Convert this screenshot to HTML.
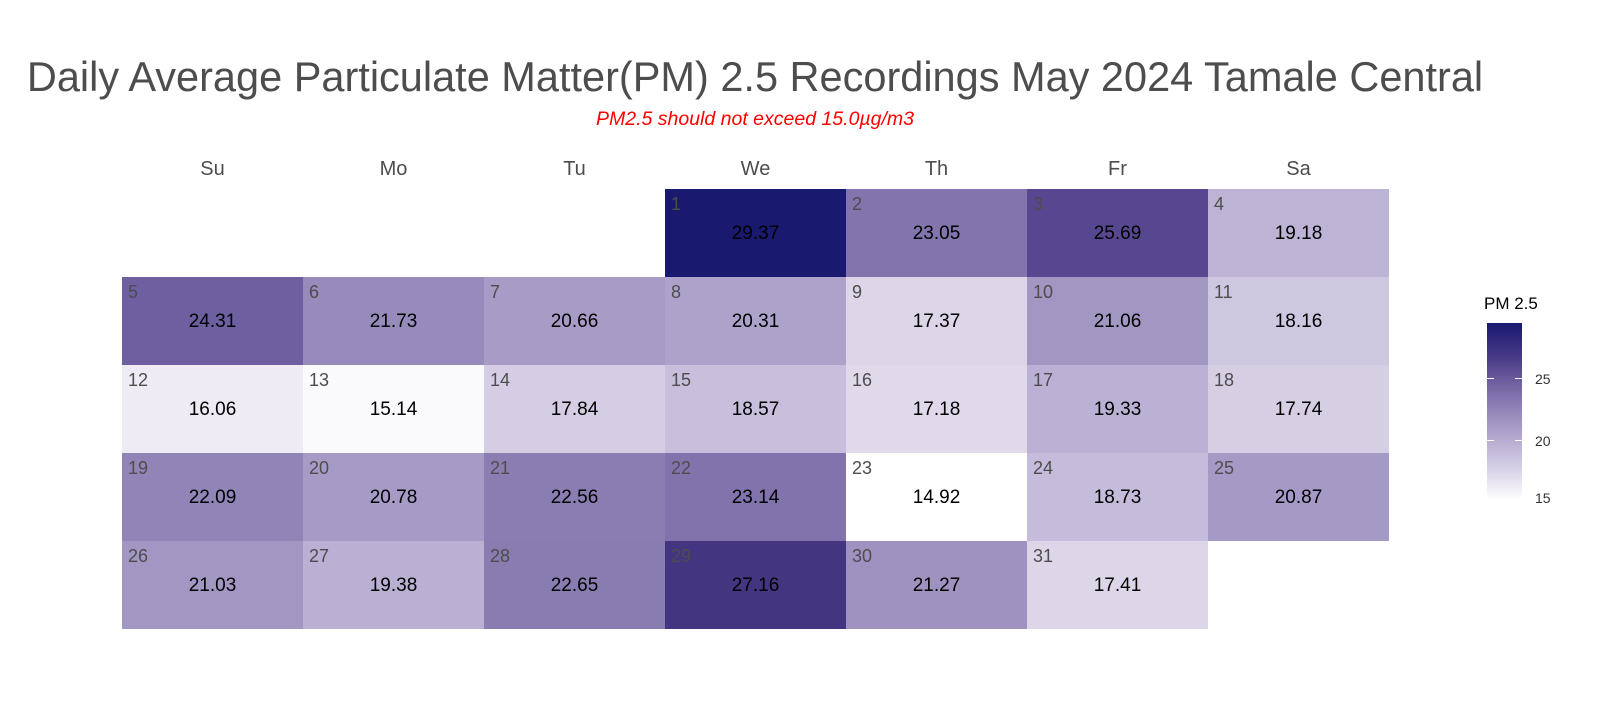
<!DOCTYPE html>
<html><head><meta charset="utf-8"><style>
body{margin:0;width:1600px;height:722px;background:#fff;font-family:"Liberation Sans",sans-serif;position:relative;overflow:hidden}
.t{position:absolute;left:0;width:1510px;text-align:center;top:53px;font-size:41.5px;color:#4d4d4d}
.s{position:absolute;left:0;width:1510px;text-align:center;top:108px;font-size:19.5px;color:#ff0000;font-style:italic}
.h{position:absolute;top:158px;width:181px;text-align:center;font-size:20px;color:#4d4d4d}
.c{position:absolute;width:181px;height:88px}
.c .d{position:absolute;left:6px;top:5px;font-size:18px;color:#4d4d4d}
.c .v{position:absolute;left:0;width:100%;text-align:center;top:34px;font-size:19px;color:#000}
.lg{position:absolute;left:1487px;top:323px;width:35px;height:177px;background:linear-gradient(to top,#fff,#d6d0e6 18%,#a99ec8 40%,#7a6ba8 62%,#4a3b88 80%,#191970)}
.lt{position:absolute;font-size:14px;color:#333}
</style></head><body>
<div class="t">Daily Average Particulate Matter(PM) 2.5 Recordings May 2024 Tamale Central</div>
<div class="s">PM2.5 should not exceed 15.0µg/m3</div>
<div id="g"></div>
<div class="lt" style="left:1484px;top:294px;font-size:17px;color:#000">PM 2.5</div>
<div class="lg"></div>
<div style="position:absolute;left:1487px;top:378px;width:35px;height:1px;background:linear-gradient(to right,#fff 7px,transparent 7px,transparent 28px,#fff 28px)"></div>
<div style="position:absolute;left:1487px;top:440px;width:35px;height:1px;background:linear-gradient(to right,#fff 7px,transparent 7px,transparent 28px,#fff 28px)"></div>
<div class="lt" style="left:1535px;top:371px">25</div>
<div class="lt" style="left:1535px;top:433px">20</div>
<div class="lt" style="left:1535px;top:490px">15</div>
<script>
var vals=[29.37,23.05,25.69,19.18,24.31,21.73,20.66,20.31,17.37,21.06,18.16,16.06,15.14,17.84,18.57,17.18,19.33,17.74,22.09,20.78,22.56,23.14,14.92,18.73,20.87,21.03,19.38,22.65,27.16,21.27,17.41];
var stops=[[14.92,[255,255,255]],[15.14,[250,249,252]],[17.4,[220,214,232]],[19.3,[186,177,212]],[20.87,[165,153,197]],[23.05,[130,117,173]],[25.69,[87,71,145]],[27.16,[67,53,128]],[29.37,[25,25,112]]];
function col(v){for(var i=1;i<stops.length;i++){if(v<=stops[i][0]){var a=stops[i-1],b=stops[i],t=(v-a[0])/(b[0]-a[0]);t=Math.max(0,Math.min(1,t));return 'rgb('+a[1].map(function(x,k){return Math.round(x+(b[1][k]-x)*t)}).join(',')+')';}}return 'rgb(25,25,112)';}
var days=['Su','Mo','Tu','We','Th','Fr','Sa'],h='';
for(var i=0;i<7;i++)h+='<div class="h" style="left:'+(122+i*181)+'px">'+days[i]+'</div>';
for(var d=1;d<=31;d++){var p=d+2,c=p%7,r=Math.floor(p/7);
h+='<div class="c" style="left:'+(122+c*181)+'px;top:'+(189+r*88)+'px;background:'+col(vals[d-1])+'"><div class="d">'+d+'</div><div class="v">'+vals[d-1].toFixed(2)+'</div></div>';}
document.getElementById('g').innerHTML=h;
</script>
</body></html>
